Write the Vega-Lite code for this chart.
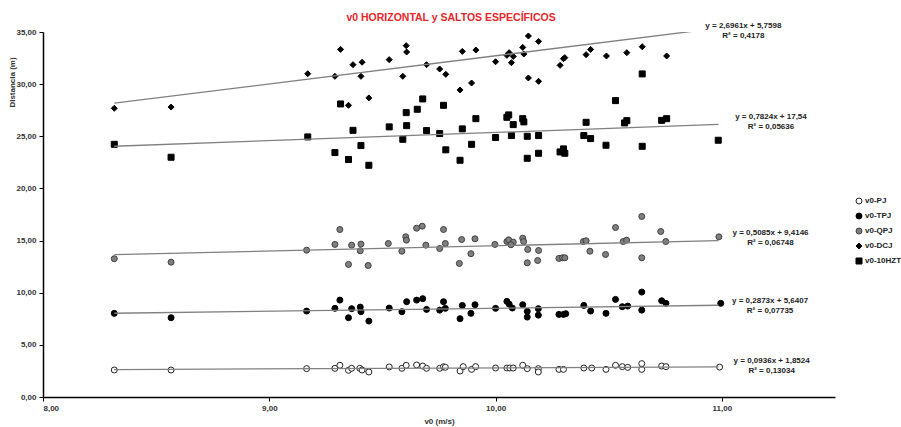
{
  "$schema": "https://vega.github.io/schema/vega-lite/v6.json",
  "autosize": "none",
  "width": 792,
  "height": 365,
  "padding": {"left": 43, "top": 32, "right": 66, "bottom": 30},
  "background": "white",
  "title": {"text": "v0 HORIZONTAL y SALTOS ESPECÍFICOS", "font": "Liberation Sans", "fontSize": 10.5, "fontWeight": "bold", "color": "#e8262a", "offset": -2, "dx": 12},
  "datasets": {
    "trend": [
      {"serie": "v0-PJ", "v0": 8.315, "dist": 2.631}, {"serie": "v0-PJ", "v0": 10.985, "dist": 2.881},
      {"serie": "v0-TPJ", "v0": 8.315, "dist": 8.030}, {"serie": "v0-TPJ", "v0": 10.985, "dist": 8.796},
      {"serie": "v0-QPJ", "v0": 8.315, "dist": 13.643}, {"serie": "v0-QPJ", "v0": 10.985, "dist": 15.0},
      {"serie": "v0-DCJ", "v0": 8.315, "dist": 28.178}, {"serie": "v0-DCJ", "v0": 10.985, "dist": 35.377},
      {"serie": "v0-10HZT", "v0": 8.315, "dist": 24.046}, {"serie": "v0-10HZT", "v0": 10.985, "dist": 26.135}
    ],
    "eqs": [
      {"v0": 11.095, "dist": 35.6, "label": "y = 2,6961x + 5,7598\nR² = 0,4178"},
      {"v0": 11.217, "dist": 26.83, "label": "y = 0,7824x + 17,54\nR² = 0,05636"},
      {"v0": 11.215, "dist": 15.71, "label": "y = 0,5085x + 9,4146\nR² = 0,06748"},
      {"v0": 11.213, "dist": 9.23, "label": "y = 0,2873x + 5,6407\nR² = 0,07735"},
      {"v0": 11.22, "dist": 3.44, "label": "y = 0,0936x + 1,8524\nR² = 0,13034"}
    ],
    "pts": [
      {"serie": "v0-PJ", "v0": 8.315, "dist": 2.59}, {"serie": "v0-PJ", "v0": 8.566, "dist": 2.59},
      {"serie": "v0-PJ", "v0": 9.165, "dist": 2.72}, {"serie": "v0-PJ", "v0": 9.29, "dist": 2.75},
      {"serie": "v0-PJ", "v0": 9.312, "dist": 3.04}, {"serie": "v0-PJ", "v0": 9.35, "dist": 2.56},
      {"serie": "v0-PJ", "v0": 9.364, "dist": 2.75}, {"serie": "v0-PJ", "v0": 9.40, "dist": 2.75},
      {"serie": "v0-PJ", "v0": 9.41, "dist": 2.59}, {"serie": "v0-PJ", "v0": 9.44, "dist": 2.4},
      {"serie": "v0-PJ", "v0": 9.53, "dist": 2.88}, {"serie": "v0-PJ", "v0": 9.586, "dist": 2.75},
      {"serie": "v0-PJ", "v0": 9.605, "dist": 3.04}, {"serie": "v0-PJ", "v0": 9.651, "dist": 3.07},
      {"serie": "v0-PJ", "v0": 9.678, "dist": 2.97}, {"serie": "v0-PJ", "v0": 9.695, "dist": 2.75},
      {"serie": "v0-PJ", "v0": 9.753, "dist": 2.75}, {"serie": "v0-PJ", "v0": 9.77, "dist": 2.9},
      {"serie": "v0-PJ", "v0": 9.778, "dist": 2.85}, {"serie": "v0-PJ", "v0": 9.843, "dist": 2.49},
      {"serie": "v0-PJ", "v0": 9.857, "dist": 2.91}, {"serie": "v0-PJ", "v0": 9.894, "dist": 2.65},
      {"serie": "v0-PJ", "v0": 9.912, "dist": 2.91}, {"serie": "v0-PJ", "v0": 10.0, "dist": 2.78},
      {"serie": "v0-PJ", "v0": 10.05, "dist": 2.78}, {"serie": "v0-PJ", "v0": 10.063, "dist": 2.78},
      {"serie": "v0-PJ", "v0": 10.078, "dist": 2.78}, {"serie": "v0-PJ", "v0": 10.12, "dist": 3.04},
      {"serie": "v0-PJ", "v0": 10.14, "dist": 2.72}, {"serie": "v0-PJ", "v0": 10.189, "dist": 2.72},
      {"serie": "v0-PJ", "v0": 10.189, "dist": 2.4}, {"serie": "v0-PJ", "v0": 10.28, "dist": 2.65},
      {"serie": "v0-PJ", "v0": 10.30, "dist": 2.65}, {"serie": "v0-PJ", "v0": 10.39, "dist": 2.78},
      {"serie": "v0-PJ", "v0": 10.425, "dist": 2.78}, {"serie": "v0-PJ", "v0": 10.488, "dist": 2.65},
      {"serie": "v0-PJ", "v0": 10.53, "dist": 3.04}, {"serie": "v0-PJ", "v0": 10.56, "dist": 2.91},
      {"serie": "v0-PJ", "v0": 10.584, "dist": 2.84}, {"serie": "v0-PJ", "v0": 10.646, "dist": 3.2},
      {"serie": "v0-PJ", "v0": 10.646, "dist": 2.65}, {"serie": "v0-PJ", "v0": 10.734, "dist": 2.97},
      {"serie": "v0-PJ", "v0": 10.753, "dist": 2.91}, {"serie": "v0-PJ", "v0": 10.99, "dist": 2.87},

      {"serie": "v0-TPJ", "v0": 8.315, "dist": 8.02}, {"serie": "v0-TPJ", "v0": 8.566, "dist": 7.6},
      {"serie": "v0-TPJ", "v0": 9.165, "dist": 8.24}, {"serie": "v0-TPJ", "v0": 9.29, "dist": 8.5},
      {"serie": "v0-TPJ", "v0": 9.312, "dist": 9.29}, {"serie": "v0-TPJ", "v0": 9.35, "dist": 7.6},
      {"serie": "v0-TPJ", "v0": 9.364, "dist": 8.47}, {"serie": "v0-TPJ", "v0": 9.402, "dist": 8.62},
      {"serie": "v0-TPJ", "v0": 9.405, "dist": 8.18}, {"serie": "v0-TPJ", "v0": 9.44, "dist": 7.28},
      {"serie": "v0-TPJ", "v0": 9.53, "dist": 8.53}, {"serie": "v0-TPJ", "v0": 9.586, "dist": 8.18},
      {"serie": "v0-TPJ", "v0": 9.607, "dist": 9.14}, {"serie": "v0-TPJ", "v0": 9.651, "dist": 9.29},
      {"serie": "v0-TPJ", "v0": 9.678, "dist": 9.43}, {"serie": "v0-TPJ", "v0": 9.695, "dist": 8.4},
      {"serie": "v0-TPJ", "v0": 9.753, "dist": 8.33}, {"serie": "v0-TPJ", "v0": 9.77, "dist": 9.14},
      {"serie": "v0-TPJ", "v0": 9.778, "dist": 8.5}, {"serie": "v0-TPJ", "v0": 9.843, "dist": 7.51},
      {"serie": "v0-TPJ", "v0": 9.853, "dist": 8.78}, {"serie": "v0-TPJ", "v0": 9.891, "dist": 8.02},
      {"serie": "v0-TPJ", "v0": 9.909, "dist": 8.85}, {"serie": "v0-TPJ", "v0": 10.0, "dist": 8.5},
      {"serie": "v0-TPJ", "v0": 10.05, "dist": 9.17}, {"serie": "v0-TPJ", "v0": 10.06, "dist": 8.91},
      {"serie": "v0-TPJ", "v0": 10.074, "dist": 8.53}, {"serie": "v0-TPJ", "v0": 10.12, "dist": 8.85},
      {"serie": "v0-TPJ", "v0": 10.14, "dist": 8.21}, {"serie": "v0-TPJ", "v0": 10.14, "dist": 7.66},
      {"serie": "v0-TPJ", "v0": 10.189, "dist": 8.47}, {"serie": "v0-TPJ", "v0": 10.189, "dist": 7.85},
      {"serie": "v0-TPJ", "v0": 10.28, "dist": 7.92}, {"serie": "v0-TPJ", "v0": 10.30, "dist": 7.92},
      {"serie": "v0-TPJ", "v0": 10.31, "dist": 7.99}, {"serie": "v0-TPJ", "v0": 10.39, "dist": 8.78},
      {"serie": "v0-TPJ", "v0": 10.42, "dist": 8.24}, {"serie": "v0-TPJ", "v0": 10.488, "dist": 8.02},
      {"serie": "v0-TPJ", "v0": 10.53, "dist": 9.36}, {"serie": "v0-TPJ", "v0": 10.56, "dist": 8.66},
      {"serie": "v0-TPJ", "v0": 10.584, "dist": 8.72}, {"serie": "v0-TPJ", "v0": 10.646, "dist": 10.06},
      {"serie": "v0-TPJ", "v0": 10.646, "dist": 8.33}, {"serie": "v0-TPJ", "v0": 10.734, "dist": 9.23},
      {"serie": "v0-TPJ", "v0": 10.753, "dist": 8.98}, {"serie": "v0-TPJ", "v0": 10.995, "dist": 8.98},

      {"serie": "v0-QPJ", "v0": 8.315, "dist": 13.26}, {"serie": "v0-QPJ", "v0": 8.566, "dist": 12.93},
      {"serie": "v0-QPJ", "v0": 9.165, "dist": 14.08}, {"serie": "v0-QPJ", "v0": 9.29, "dist": 14.63},
      {"serie": "v0-QPJ", "v0": 9.312, "dist": 16.06}, {"serie": "v0-QPJ", "v0": 9.35, "dist": 12.71},
      {"serie": "v0-QPJ", "v0": 9.364, "dist": 14.56}, {"serie": "v0-QPJ", "v0": 9.405, "dist": 14.66},
      {"serie": "v0-QPJ", "v0": 9.402, "dist": 14.02}, {"serie": "v0-QPJ", "v0": 9.437, "dist": 12.61},
      {"serie": "v0-QPJ", "v0": 9.526, "dist": 14.72}, {"serie": "v0-QPJ", "v0": 9.586, "dist": 13.98},
      {"serie": "v0-QPJ", "v0": 9.603, "dist": 15.36}, {"serie": "v0-QPJ", "v0": 9.606, "dist": 15.04},
      {"serie": "v0-QPJ", "v0": 9.651, "dist": 16.19}, {"serie": "v0-QPJ", "v0": 9.676, "dist": 16.38},
      {"serie": "v0-QPJ", "v0": 9.692, "dist": 14.56}, {"serie": "v0-QPJ", "v0": 9.753, "dist": 14.24},
      {"serie": "v0-QPJ", "v0": 9.77, "dist": 16.06}, {"serie": "v0-QPJ", "v0": 9.778, "dist": 14.72},
      {"serie": "v0-QPJ", "v0": 9.84, "dist": 12.81}, {"serie": "v0-QPJ", "v0": 9.85, "dist": 15.1},
      {"serie": "v0-QPJ", "v0": 9.891, "dist": 13.74}, {"serie": "v0-QPJ", "v0": 9.909, "dist": 15.17},
      {"serie": "v0-QPJ", "v0": 9.997, "dist": 14.63}, {"serie": "v0-QPJ", "v0": 10.05, "dist": 14.91},
      {"serie": "v0-QPJ", "v0": 10.058, "dist": 15.07}, {"serie": "v0-QPJ", "v0": 10.078, "dist": 14.85},
      {"serie": "v0-QPJ", "v0": 10.068, "dist": 14.6}, {"serie": "v0-QPJ", "v0": 10.12, "dist": 15.23},
      {"serie": "v0-QPJ", "v0": 10.124, "dist": 14.91}, {"serie": "v0-QPJ", "v0": 10.142, "dist": 14.15},
      {"serie": "v0-QPJ", "v0": 10.14, "dist": 12.87}, {"serie": "v0-QPJ", "v0": 10.19, "dist": 14.05},
      {"serie": "v0-QPJ", "v0": 10.186, "dist": 13.09}, {"serie": "v0-QPJ", "v0": 10.28, "dist": 13.29},
      {"serie": "v0-QPJ", "v0": 10.296, "dist": 13.35}, {"serie": "v0-QPJ", "v0": 10.306, "dist": 13.35},
      {"serie": "v0-QPJ", "v0": 10.388, "dist": 14.91}, {"serie": "v0-QPJ", "v0": 10.40, "dist": 14.98},
      {"serie": "v0-QPJ", "v0": 10.417, "dist": 13.98}, {"serie": "v0-QPJ", "v0": 10.486, "dist": 13.67},
      {"serie": "v0-QPJ", "v0": 10.53, "dist": 16.25}, {"serie": "v0-QPJ", "v0": 10.564, "dist": 14.91},
      {"serie": "v0-QPJ", "v0": 10.579, "dist": 15.04}, {"serie": "v0-QPJ", "v0": 10.646, "dist": 17.31},
      {"serie": "v0-QPJ", "v0": 10.646, "dist": 13.35}, {"serie": "v0-QPJ", "v0": 10.73, "dist": 15.87},
      {"serie": "v0-QPJ", "v0": 10.752, "dist": 14.91}, {"serie": "v0-QPJ", "v0": 10.987, "dist": 15.36},

      {"serie": "v0-DCJ", "v0": 8.315, "dist": 27.68}, {"serie": "v0-DCJ", "v0": 8.566, "dist": 27.8},
      {"serie": "v0-DCJ", "v0": 9.17, "dist": 31.0}, {"serie": "v0-DCJ", "v0": 9.29, "dist": 30.75},
      {"serie": "v0-DCJ", "v0": 9.315, "dist": 33.33}, {"serie": "v0-DCJ", "v0": 9.35, "dist": 27.97},
      {"serie": "v0-DCJ", "v0": 9.37, "dist": 31.87}, {"serie": "v0-DCJ", "v0": 9.41, "dist": 32.1},
      {"serie": "v0-DCJ", "v0": 9.405, "dist": 30.75}, {"serie": "v0-DCJ", "v0": 9.44, "dist": 28.68},
      {"serie": "v0-DCJ", "v0": 9.53, "dist": 32.35}, {"serie": "v0-DCJ", "v0": 9.59, "dist": 30.75},
      {"serie": "v0-DCJ", "v0": 9.605, "dist": 33.69}, {"serie": "v0-DCJ", "v0": 9.607, "dist": 33.08},
      {"serie": "v0-DCJ", "v0": 9.695, "dist": 31.87}, {"serie": "v0-DCJ", "v0": 9.753, "dist": 31.45},
      {"serie": "v0-DCJ", "v0": 9.78, "dist": 30.94}, {"serie": "v0-DCJ", "v0": 9.843, "dist": 29.44},
      {"serie": "v0-DCJ", "v0": 9.894, "dist": 30.11}, {"serie": "v0-DCJ", "v0": 9.853, "dist": 33.14},
      {"serie": "v0-DCJ", "v0": 9.913, "dist": 33.27}, {"serie": "v0-DCJ", "v0": 10.0, "dist": 32.15},
      {"serie": "v0-DCJ", "v0": 10.05, "dist": 32.76}, {"serie": "v0-DCJ", "v0": 10.06, "dist": 33.02},
      {"serie": "v0-DCJ", "v0": 10.078, "dist": 32.66}, {"serie": "v0-DCJ", "v0": 10.07, "dist": 32.06},
      {"serie": "v0-DCJ", "v0": 10.12, "dist": 33.52}, {"serie": "v0-DCJ", "v0": 10.125, "dist": 32.89},
      {"serie": "v0-DCJ", "v0": 10.145, "dist": 34.62}, {"serie": "v0-DCJ", "v0": 10.145, "dist": 30.59},
      {"serie": "v0-DCJ", "v0": 10.19, "dist": 34.1}, {"serie": "v0-DCJ", "v0": 10.19, "dist": 30.27},
      {"serie": "v0-DCJ", "v0": 10.285, "dist": 31.8}, {"serie": "v0-DCJ", "v0": 10.30, "dist": 32.44},
      {"serie": "v0-DCJ", "v0": 10.306, "dist": 32.54}, {"serie": "v0-DCJ", "v0": 10.40, "dist": 32.83},
      {"serie": "v0-DCJ", "v0": 10.42, "dist": 33.33}, {"serie": "v0-DCJ", "v0": 10.49, "dist": 32.7},
      {"serie": "v0-DCJ", "v0": 10.58, "dist": 33.02}, {"serie": "v0-DCJ", "v0": 10.648, "dist": 33.59},
      {"serie": "v0-DCJ", "v0": 10.756, "dist": 32.7},

      {"serie": "v0-10HZT", "v0": 8.315, "dist": 24.23}, {"serie": "v0-10HZT", "v0": 8.566, "dist": 22.99},
      {"serie": "v0-10HZT", "v0": 9.17, "dist": 24.94}, {"serie": "v0-10HZT", "v0": 9.29, "dist": 23.44},
      {"serie": "v0-10HZT", "v0": 9.315, "dist": 28.1}, {"serie": "v0-10HZT", "v0": 9.35, "dist": 22.77},
      {"serie": "v0-10HZT", "v0": 9.37, "dist": 25.57}, {"serie": "v0-10HZT", "v0": 9.405, "dist": 24.11},
      {"serie": "v0-10HZT", "v0": 9.44, "dist": 22.22}, {"serie": "v0-10HZT", "v0": 9.53, "dist": 25.9},
      {"serie": "v0-10HZT", "v0": 9.59, "dist": 24.71}, {"serie": "v0-10HZT", "v0": 9.605, "dist": 27.27},
      {"serie": "v0-10HZT", "v0": 9.607, "dist": 26.02}, {"serie": "v0-10HZT", "v0": 9.654, "dist": 27.59},
      {"serie": "v0-10HZT", "v0": 9.678, "dist": 28.58}, {"serie": "v0-10HZT", "v0": 9.695, "dist": 25.55},
      {"serie": "v0-10HZT", "v0": 9.753, "dist": 25.26}, {"serie": "v0-10HZT", "v0": 9.77, "dist": 27.97},
      {"serie": "v0-10HZT", "v0": 9.78, "dist": 23.7}, {"serie": "v0-10HZT", "v0": 9.843, "dist": 22.7},
      {"serie": "v0-10HZT", "v0": 9.853, "dist": 25.71}, {"serie": "v0-10HZT", "v0": 9.894, "dist": 24.23},
      {"serie": "v0-10HZT", "v0": 9.913, "dist": 26.69}, {"serie": "v0-10HZT", "v0": 10.0, "dist": 24.88},
      {"serie": "v0-10HZT", "v0": 10.05, "dist": 26.82}, {"serie": "v0-10HZT", "v0": 10.058, "dist": 27.05},
      {"serie": "v0-10HZT", "v0": 10.078, "dist": 26.12}, {"serie": "v0-10HZT", "v0": 10.07, "dist": 25.07},
      {"serie": "v0-10HZT", "v0": 10.12, "dist": 26.69}, {"serie": "v0-10HZT", "v0": 10.125, "dist": 26.38},
      {"serie": "v0-10HZT", "v0": 10.14, "dist": 25.0}, {"serie": "v0-10HZT", "v0": 10.14, "dist": 22.89},
      {"serie": "v0-10HZT", "v0": 10.19, "dist": 25.07}, {"serie": "v0-10HZT", "v0": 10.19, "dist": 23.37},
      {"serie": "v0-10HZT", "v0": 10.285, "dist": 23.5}, {"serie": "v0-10HZT", "v0": 10.30, "dist": 23.79},
      {"serie": "v0-10HZT", "v0": 10.306, "dist": 23.37}, {"serie": "v0-10HZT", "v0": 10.39, "dist": 25.07},
      {"serie": "v0-10HZT", "v0": 10.40, "dist": 26.34}, {"serie": "v0-10HZT", "v0": 10.42, "dist": 24.78},
      {"serie": "v0-10HZT", "v0": 10.488, "dist": 24.14}, {"serie": "v0-10HZT", "v0": 10.53, "dist": 28.42},
      {"serie": "v0-10HZT", "v0": 10.57, "dist": 26.28}, {"serie": "v0-10HZT", "v0": 10.58, "dist": 26.5},
      {"serie": "v0-10HZT", "v0": 10.648, "dist": 24.04}, {"serie": "v0-10HZT", "v0": 10.648, "dist": 30.98},
      {"serie": "v0-10HZT", "v0": 10.734, "dist": 26.53}, {"serie": "v0-10HZT", "v0": 10.756, "dist": 26.69},
      {"serie": "v0-10HZT", "v0": 10.984, "dist": 24.62}
    ]
  },
  "layer": [
    {
      "data": {"name": "pts"},
      "mark": {"type": "point", "strokeWidth": 1, "opacity": 1},
      "encoding": {
        "x": {"field": "v0", "type": "quantitative",
          "scale": {"domain": [8, 11.5], "nice": false, "zero": false},
          "axis": {"values": [8, 9, 10, 11], "title": "v0 (m/s)", "labelExpr": "replace(format(datum.value, '.2f'), '.', ',')"}},
        "y": {"field": "dist", "type": "quantitative",
          "scale": {"domain": [0, 35], "nice": false, "zero": true},
          "axis": {"values": [0, 5, 10, 15, 20, 25, 30, 35], "title": "Distancia (m)", "titleX": -31, "titleY": 50, "titleAlign": "center", "titleBaseline": "middle", "titleAngle": -90, "labelExpr": "replace(format(datum.value, '.2f'), '.', ',')"}},
        "shape": {"field": "serie", "type": "nominal",
          "scale": {"domain": ["v0-PJ", "v0-TPJ", "v0-QPJ", "v0-DCJ", "v0-10HZT"], "range": ["circle", "circle", "circle", "diamond", "square"]}},
        "fill": {"field": "serie", "type": "nominal",
          "scale": {"domain": ["v0-PJ", "v0-TPJ", "v0-QPJ", "v0-DCJ", "v0-10HZT"], "range": ["#ffffff", "#000000", "#7f7f7f", "#000000", "#000000"]}},
        "stroke": {"field": "serie", "type": "nominal",
          "scale": {"domain": ["v0-PJ", "v0-TPJ", "v0-QPJ", "v0-DCJ", "v0-10HZT"], "range": ["#222222", "#000000", "#404040", "#000000", "#000000"]}},
        "size": {"field": "serie", "type": "nominal",
          "scale": {"domain": ["v0-PJ", "v0-TPJ", "v0-QPJ", "v0-DCJ", "v0-10HZT"], "range": [36, 36, 40, 24, 26]}}
      }
    },
    {
      "data": {"name": "trend"},
      "mark": {"type": "line", "color": "#808080", "strokeWidth": 1.3, "clip": true},
      "encoding": {
        "x": {"field": "v0", "type": "quantitative"},
        "y": {"field": "dist", "type": "quantitative"},
        "detail": {"field": "serie", "type": "nominal"}
      }
    },
    {
      "data": {"name": "eqs"},
      "mark": {"type": "text", "font": "Liberation Sans", "fontSize": 8, "fontWeight": "bold", "color": "#222222", "align": "center", "baseline": "middle", "lineBreak": "\n", "lineHeight": 10},
      "encoding": {
        "x": {"field": "v0", "type": "quantitative"},
        "y": {"field": "dist", "type": "quantitative"},
        "text": {"field": "label", "type": "nominal"}
      }
    }
  ],
  "config": {
    "view": {"stroke": null},
    "axis": {
      "grid": false,
      "domainColor": "#000000",
      "domainWidth": 1.5,
      "tickColor": "#000000",
      "tickSize": 4,
      "tickWidth": 1,
      "labelFont": "Liberation Sans",
      "labelFontSize": 8,
      "labelFontWeight": "bold",
      "labelColor": "#333333",
      "labelPadding": 3,
      "titleFont": "Liberation Sans",
      "titleFontSize": 8,
      "titleFontWeight": "bold",
      "titleColor": "#333333"
    },
    "axisX": {"titlePadding": 5},
    "legend": {
      "orient": "none",
      "legendX": 812,
      "legendY": 165,
      "title": null,
      "labelFont": "Liberation Sans",
      "labelFontSize": 8,
      "labelFontWeight": "bold",
      "labelColor": "#222222",
      "symbolStrokeWidth": 1,
      "rowPadding": 5,
      "labelOffset": 2
    }
  }
}
